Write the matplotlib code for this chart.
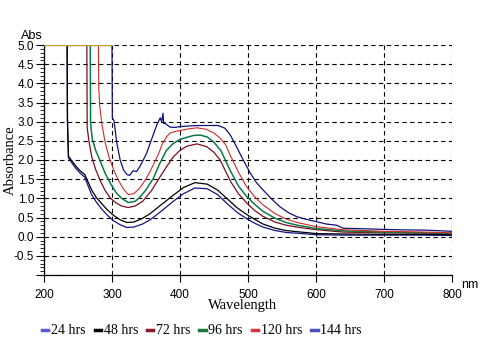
import matplotlib
matplotlib.use("Agg")
import matplotlib.pyplot as plt
from matplotlib.lines import Line2D
import numpy as np

# --- data (wavelength nm, absorbance) ----------------------------------------
wl_24 = [200, 234, 234.5, 236, 240, 246, 253, 260, 265, 270, 277, 284, 292, 302, 312, 322,
         332, 345, 356, 370, 390, 405, 422, 440, 455, 470, 485, 498, 510, 522, 540, 556,
         572, 601, 640, 700, 760, 800]
abs_24 = [5.0, 5.0, 3.0, 2.05, 1.95, 1.8, 1.66, 1.55, 1.32, 1.1, 0.9, 0.74, 0.58, 0.42, 0.31, 0.24,
          0.25, 0.33, 0.44, 0.63, 0.92, 1.12, 1.27, 1.25, 1.1, 0.85, 0.62, 0.47, 0.35, 0.25, 0.16, 0.11,
          0.09, 0.05, 0.04, 0.04, 0.04, 0.03]

wl_48 = [200, 234, 234.5, 236, 240, 246, 253, 260, 265, 270, 277, 284, 292, 302, 312, 322,
         332, 345, 356, 370, 390, 405, 422, 440, 455, 470, 485, 498, 510, 522, 540, 556,
         572, 601, 640, 700, 760, 800]
abs_48 = [5.0, 5.0, 3.0, 2.1, 2.0, 1.86, 1.72, 1.62, 1.42, 1.22, 1.02, 0.88, 0.72, 0.56, 0.44, 0.37,
          0.38, 0.48, 0.60, 0.80, 1.08, 1.28, 1.41, 1.37, 1.22, 0.98, 0.74, 0.58, 0.45, 0.33, 0.22, 0.16,
          0.13, 0.08, 0.07, 0.06, 0.06, 0.05]

wl_72 = [200, 263, 263.5, 266, 270, 276, 283, 290, 298, 306, 314, 324, 334, 345, 358, 371,
         380, 390, 400, 410, 425, 439, 450, 459, 474, 486, 498, 510, 522, 540, 556, 572,
         601, 640, 700, 760, 800]
abs_72 = [5.0, 5.0, 2.85, 2.5, 2.1, 1.75, 1.45, 1.2, 1.0, 0.88, 0.8, 0.76, 0.8, 0.92, 1.2, 1.57,
          1.82, 2.08, 2.25, 2.36, 2.42, 2.35, 2.2, 2.0, 1.45, 1.12, 0.88, 0.68, 0.53, 0.38, 0.3, 0.25,
          0.18, 0.12, 0.1, 0.09, 0.08]

wl_96 = [200, 268, 268.5, 271, 276, 282, 290, 298, 306, 314, 324, 334, 341, 350, 361, 370,
         380, 390, 400, 420, 430, 440, 449, 460, 474, 486, 498, 510, 522, 540, 556, 572,
         601, 640, 700, 760, 800]
abs_96 = [5.0, 5.0, 2.95, 2.55, 2.25, 2.0, 1.65, 1.38, 1.15, 1.0, 0.89, 0.92, 1.03, 1.22, 1.53, 1.9,
          2.25, 2.43, 2.54, 2.64, 2.65, 2.6, 2.48, 2.25, 1.72, 1.32, 1.05, 0.84, 0.66, 0.48, 0.37, 0.3,
          0.21, 0.15, 0.12, 0.1, 0.09]

wl_120 = [200, 280, 280.5, 282, 285, 290, 296, 303, 310, 317, 324, 332, 341, 349, 356, 362,
          368, 374, 377, 380, 385, 392, 400, 412, 425, 439, 450, 459, 467, 474, 486, 498,
          510, 522, 540, 556, 572, 601, 640, 700, 760, 800]
abs_120 = [5.0, 5.0, 3.9, 3.4, 2.95, 2.45, 2.05, 1.72, 1.45, 1.24, 1.1, 1.12, 1.27, 1.48, 1.7, 1.92,
           2.14, 2.42, 2.5, 2.6, 2.7, 2.74, 2.77, 2.81, 2.84, 2.8, 2.7, 2.57, 2.4, 2.12, 1.68, 1.3,
           1.04, 0.83, 0.6, 0.46, 0.37, 0.26, 0.18, 0.14, 0.12, 0.1]

wl_144 = [200, 300, 300.5, 303, 307, 312, 317, 322, 326, 331, 336, 341, 346, 351, 358, 366,
          371, 373, 375, 376, 378, 385, 392, 400, 415, 429, 445, 456, 466, 474, 483, 493,
          503, 512, 522, 535, 547, 560, 572, 586, 601, 615, 630, 640, 680, 720, 760, 800]
abs_144 = [5.0, 5.0, 3.1, 3.02, 2.45, 2.0, 1.74, 1.62, 1.6, 1.72, 1.7, 1.83, 2.0, 2.18, 2.53, 2.92,
           3.1, 3.0, 3.22, 2.95, 2.96, 2.86, 2.85, 2.87, 2.89, 2.9, 2.9, 2.9, 2.83, 2.65, 2.35, 2.0,
           1.67, 1.42, 1.22, 0.98, 0.78, 0.62, 0.52, 0.45, 0.39, 0.33, 0.3, 0.22, 0.2, 0.18, 0.17, 0.14]

series_labels = ["24 hrs", "48 hrs", "72 hrs", "96 hrs", "120 hrs", "144 hrs"]
x_ticks = [200, 300, 400, 500, 600, 700, 800]
y_ticks = [-1.0, -0.5, 0.0, 0.5, 1.0, 1.5, 2.0, 2.5, 3.0, 3.5, 4.0, 4.5, 5.0]
y_tick_labels = ["", "-0.5", "0.0", "0.5", "1.0", "1.5", "2.0", "2.5", "3.0", "3.5", "4.0", "4.5", "5.0"]

# --- styling -----------------------------------------------------------------
line_colors = ["#14148a", "#000000", "#7a0f1e", "#0a7a48", "#d42828", "#10107e"]
legend_colors = ["#5a5ad2", "#000000", "#8c1a2a", "#1e7a3c", "#e0303c", "#4a50c4"]
line_widths = [0.9, 0.9, 0.9, 1.1, 0.8, 0.9]
sans = "Liberation Sans"
serif = "Liberation Serif"
W, H = 487, 353

fig = plt.figure(figsize=(W / 100, H / 100), dpi=100)
ax = fig.add_axes([44 / W, 1 - 275 / H, 408 / W, 230 / H])

series = [(wl_24, abs_24), (wl_48, abs_48), (wl_72, abs_72),
          (wl_96, abs_96), (wl_120, abs_120), (wl_144, abs_144)]
for (x, y), c, lw in zip(series, line_colors, line_widths):
    ax.plot(x, y, color=c, lw=lw, zorder=3)

# saturated (off-scale) stretch of the last scan drawn in the instrument's olive
x144 = np.array(wl_144)
y144 = np.array(abs_144)
sat = y144 >= 5.0
ax.plot(x144[sat], y144[sat], color="#c0a030", lw=1.0, zorder=4)

ax.set_xlim(200, 800)
ax.set_ylim(-1.0, 5.0)
ax.set_xticks(x_ticks)
ax.set_yticks(y_ticks)
ax.set_yticklabels(y_tick_labels)
ax.set_yticks(np.arange(-1.0, 5.0001, 0.1), minor=True)
for lab in ax.get_xticklabels() + ax.get_yticklabels():
    lab.set_fontfamily(sans)
    lab.set_fontsize(8.5)
ax.tick_params(axis="x", direction="out", length=5, width=0.8, pad=5)
ax.tick_params(axis="y", which="major", direction="out", length=6, width=0.8, pad=1)
ax.tick_params(axis="y", which="minor", direction="out", length=3, width=0.6)

ax.grid(True, which="major", color="black", lw=0.8, ls=(0, (4, 3)))
for s in ("top", "right"):
    ax.spines[s].set_visible(False)
for s in ("left", "bottom"):
    ax.spines[s].set_linewidth(0.9)

fig.text(32 / W, 1 - 36 / H, "Abs", family=sans, fontsize=9, ha="center", va="center")
fig.text(470 / W, 1 - 285 / H, "nm", family=sans, fontsize=9, ha="center", va="center")
fig.text(243 / W, 1 - 306 / H, "Wavelength", family=serif, fontsize=10.5, ha="center", va="center")
fig.text(10 / W, 1 - 160 / H, "Absorbance", family=serif, fontsize=10.5, ha="center",
         va="center", rotation=90)

handles = [Line2D([], [], color=c, lw=2.5) for c in legend_colors]
fig.legend(handles, series_labels, loc="center left", bbox_to_anchor=(42 / W, 1 - 331 / H),
           ncol=6, frameon=False, handlelength=0.45, handletextpad=0.2, columnspacing=0.65,
           borderpad=0, borderaxespad=0, prop={"family": serif, "size": 10})

fig.savefig("out.png", dpi=100)
